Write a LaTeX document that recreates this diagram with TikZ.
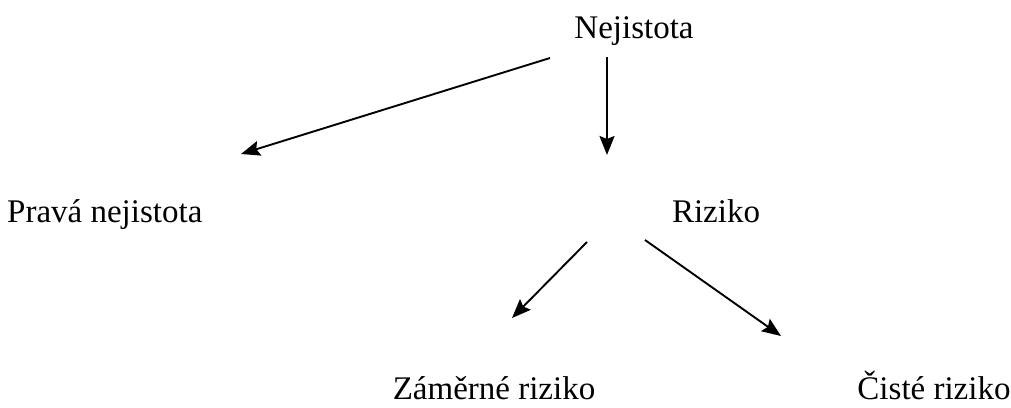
\documentclass[tikz,border=0pt]{standalone}
\usepackage{fontspec}
\setmainfont{Liberation Serif}
\usetikzlibrary{arrows.meta}
\tikzset{
  label/.style={anchor=base, inner sep=0pt, font=\fontsize{33}{39}\selectfont},
  link/.style={line width=1.9pt, -{Stealth[length=19pt, width=15pt, inset=3pt]}}
}
\begin{document}
\begin{tikzpicture}[x=1pt, y=-1pt]
  \useasboundingbox (0,0) rectangle (1011,407);

  % labels of the hierarchy
  \node[label] (root)  at (634,38)  {Nejistota};
  \node[label, anchor=base west] (true) at (7,222) {Pravá nejistota};
  \node[label] (risk)  at (716,222) {Riziko};
  \node[label] (spec)  at (494,399) {Záměrné riziko};
  \node[label] (pure)  at (934,399) {Čisté riziko};

  % end points of the connectors
  \coordinate (rootL) at (550,58);
  \coordinate (rootC) at (607,57);
  \coordinate (trueT) at (241,154);
  \coordinate (riskT) at (607,155);
  \coordinate (riskL) at (587,242);
  \coordinate (riskR) at (645,240);
  \coordinate (specT) at (512,318);
  \coordinate (pureT) at (781,336);

  % connectors
  \draw[link] (rootL) -- (trueT);
  \draw[link] (rootC) -- (riskT);
  \draw[link] (riskL) -- (specT);
  \draw[link] (riskR) -- (pureT);
\end{tikzpicture}
\end{document}
